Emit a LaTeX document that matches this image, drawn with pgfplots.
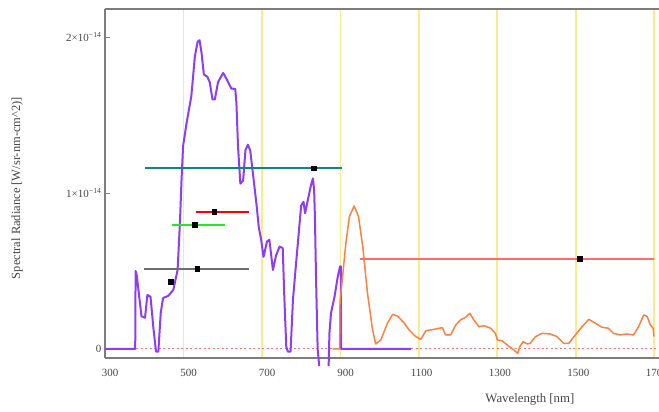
\documentclass[border=0pt]{standalone}
\usepackage{fontspec}
\setmainfont{Liberation Serif}
\usepackage{pgfplots}
\pgfplotsset{compat=1.18}
\definecolor{cpurple}{RGB}{140,60,250}
\definecolor{corange}{RGB}{255,128,64}
\definecolor{gridyellow}{RGB}{250,236,140}
\definecolor{cteal}{RGB}{20,130,130}
\definecolor{cred}{RGB}{255,0,0}
\definecolor{cgreen}{RGB}{40,230,40}
\definecolor{cgray}{RGB}{110,110,110}
\definecolor{csalmon}{RGB}{250,110,110}
\definecolor{cdot}{RGB}{250,120,120}
\definecolor{axgray}{RGB}{125,125,125}
\definecolor{txt}{RGB}{70,70,70}
\begin{document}
\begin{tikzpicture}
\begin{axis}[
  at={(0,0)}, anchor=south west, scale only axis,
  width=554pt, height=349pt,
  xmin=300, xmax=1712, ymin=-0.058, ymax=2.18,
  axis x line*=box, axis y line*=left,
  axis line style={axgray, line width=1.2pt},
  clip=false,
  xtick={300,500,...,1700},
  xticklabels={300,500,700,900,1100,1300,1500,1700},
  ytick={0,1,2},
  yticklabels={0,{1×10\textsuperscript{−14}},{2×10\textsuperscript{−14}}},
  xmajorgrids, grid style={gridyellow, line width=1.8pt},
  xtick style={draw=none},
  ytick style={axgray, line width=0.8pt},
  major tick length=5pt,
  /pgf/number format/assume math mode=true,
  ticklabel style={font=\fontsize{11}{12}\selectfont, text=txt},
  xticklabel style={anchor=north east, yshift=-8pt, xshift=17pt},
  xlabel={Wavelength [nm]},
  ylabel={Spectral Radiance [W/sr-nm-cm\textasciicircum 2)]},
  xlabel style={at={(axis description cs:0.767,0)}, anchor=center, yshift=-41pt, font=\fontsize{12.8}{14}\selectfont, text=txt},
  ylabel style={at={(axis description cs:0,0.487)}, anchor=center, yshift=88pt, font=\fontsize{12.5}{14}\selectfont, text=txt},
]
% zero reference line
\addplot[cdot, line width=1pt, dash pattern=on 2pt off 2.5pt] coordinates {(300,0) (1712,0)};
% purple (visible) spectrum
\addplot[cpurple, line width=2pt, line join=round] coordinates {
(300,0)(377,0)(378,0.50)(381,0.47)(393,0.21)(402,0.20)(408,0.346)(416,0.335)(423,0.143)(430,-0.017)(436,-0.017)(442,0.23)(448,0.327)(461,0.34)(474,0.378)(485,0.506)(491,0.81)(495,1.08)(499,1.30)(508,1.45)(520,1.62)(529,1.875)(536,1.97)(541,1.98)(546,1.90)(552,1.76)(561,1.745)(567,1.71)(574,1.60)(580,1.60)(588,1.71)(601,1.77)(609,1.735)(622,1.67)(632,1.667)(635,1.575)(639,1.30)(645,1.06)(652,1.08)(658,1.275)(664,1.31)(670,1.275)(677,1.126)(686,0.93)(692,0.78)(698,0.70)(704,0.59)(713,0.69)(719,0.70)(728,0.506)(736,0.60)(745,0.656)(753,0.647)(757,0.335)(762,0.015)(766,-0.017)(773,-0.017)(779,0.314)(787,0.55)(800,0.92)(806,0.944)(810,0.87)(817,0.955)(824,1.04)(830,1.094)(833,1.02)(835,0.85)(838,0.44)(842,0.0)(846,-0.11)};
\addplot[cpurple, line width=2pt, line join=round] coordinates {
(870,-0.11)(872,0.1)(876,0.23)(885,0.335)(893,0.46)(899,0.53)(901,0.53)(902,0)(1080,0)};
% orange (NIR) spectrum
\addplot[corange, line width=1.5pt, line join=round] coordinates {
(880,0)(898,0)(899,0.30)(903,0.40)(914,0.68)(923,0.85)(935,0.917)(946,0.85)(957,0.656)(969,0.357)(982,0.122)(990,0.032)(1003,0.058)(1020,0.165)(1033,0.222)(1046,0.21)(1063,0.165)(1075,0.122)(1092,0.079)(1105,0.062)(1118,0.117)(1139,0.126)(1160,0.137)(1168,0.09)(1181,0.09)(1194,0.154)(1206,0.186)(1219,0.203)(1230,0.229)(1239,0.19)(1253,0.143)(1266,0.149)(1283,0.133)(1295,0.10)(1300,0.058)(1312,0.053)(1325,0.026)(1342,-0.006)(1352,-0.028)(1357,0.015)(1366,0.047)(1376,0.032)(1384,0.036)(1397,0.079)(1414,0.10)(1435,0.096)(1452,0.079)(1469,0.036)(1482,0.036)(1499,0.09)(1516,0.143)(1533,0.19)(1550,0.165)(1567,0.139)(1583,0.133)(1596,0.10)(1613,0.09)(1630,0.096)(1647,0.09)(1660,0.143)(1673,0.218)(1682,0.207)(1690,0.154)(1697,0.133)(1699,0.079)};
% band bars
\addplot[cteal, line width=2.2pt] coordinates {(402,1.158) (903,1.158)};
\addplot[cred, line width=2.2pt] coordinates {(531,0.88) (666,0.88)};
\addplot[cgreen, line width=2.2pt] coordinates {(470,0.795) (607,0.795)};
\addplot[cgray, line width=2.2pt] coordinates {(400,0.513) (667,0.513)};
\addplot[csalmon, line width=2.2pt] coordinates {(950,0.577) (1699,0.577)};
% centre markers
\addplot[only marks, mark=square*, mark size=2.3pt, black] coordinates {
(832,1.158)(578,0.88)(529,0.795)(535,0.513)(468,0.43)(1510,0.577)};
\end{axis}
\pgfresetboundingbox
\path[use as bounding box] (-105pt,-54pt) rectangle (554pt,358pt);
\end{tikzpicture}
\end{document}
